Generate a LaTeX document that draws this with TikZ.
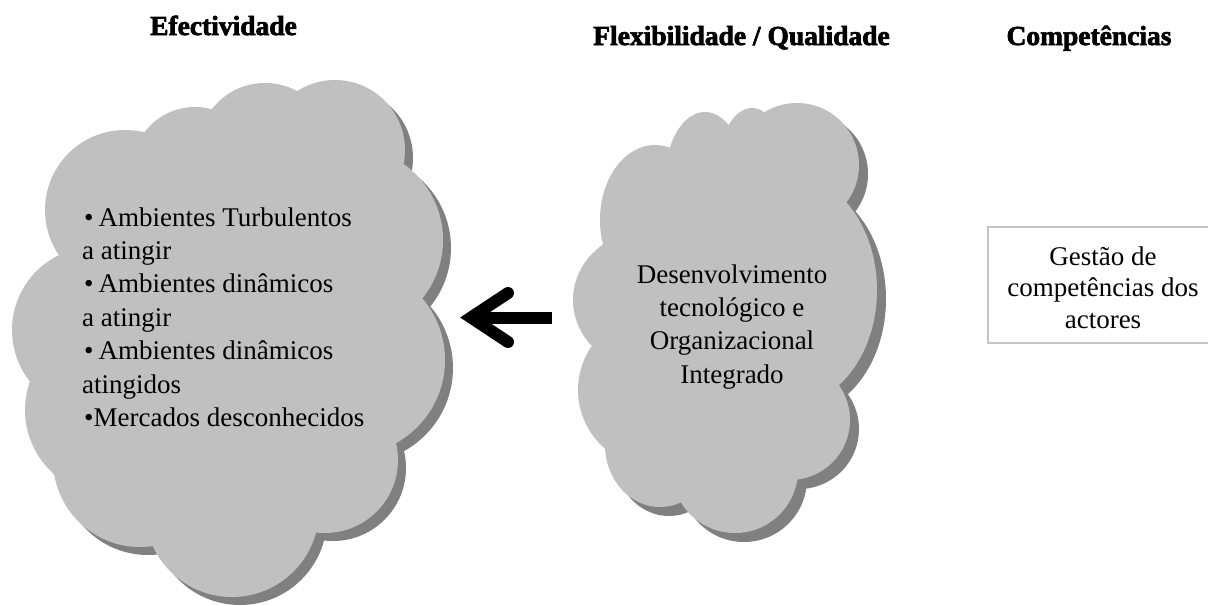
\documentclass[tikz,border=0pt]{standalone}
\usepackage{fontspec}
\setmainfont{Liberation Serif}
\newfontfamily\titlefont{Liberation Serif}[BoldFeatures={FakeBold=2.5}]
\definecolor{cloudfill}{HTML}{C0C0C0}
\definecolor{cloudshadow}{HTML}{808080}
\definecolor{boxline}{HTML}{C4C4C4}
\newcommand\lcloudlist{125/210/80/80, 195/170/63/63, 265/150/67/67, 335/150/70/70, 350/240/93/93, 350/360/95/95, 325/460/73/73, 232/510/87/87, 140/460/87/87, 110/410/85/85, 95/330/83/83, 230/330/180/200}
\newcommand\rcloudlist{655/220/55/75, 705/180/40/68, 752/175/35/67, 797/165/62/62, 790/290/87/115, 790/420/60/60, 735/470/63/63, 660/445/55/62, 655/390/77/77, 650/300/77/70, 725/315/120/160}
\begin{document}
\begin{tikzpicture}[x=1pt,y=-1pt,
  txt/.style={inner sep=0pt, font=\fontsize{27}{33}\selectfont},
  ttl/.style={inner sep=0pt, anchor=base, font=\titlefont\bfseries\fontsize{27.5}{33}\selectfont},
  gbox/.style={draw=boxline, line width=1.5pt, fill=white, inner sep=0pt},
  thick arrow/.style={line width=12pt, black}]
\useasboundingbox (0,0) rectangle (1208,605);
\fill[white] (0,0) rectangle (1208,605);
% left cloud
\begin{scope}[shift={(8,8)}]
\foreach \a/\b/\c/\d in \lcloudlist {\fill[cloudshadow] (\a,\b) ellipse [x radius=\c pt, y radius=\d pt];}
\end{scope}
\foreach \a/\b/\c/\d in \lcloudlist {\fill[cloudfill] (\a,\b) ellipse [x radius=\c pt, y radius=\d pt];}
% right cloud
\begin{scope}[shift={(9,9)}]
\foreach \a/\b/\c/\d in \rcloudlist {\fill[cloudshadow] (\a,\b) ellipse [x radius=\c pt, y radius=\d pt];}
\end{scope}
\foreach \a/\b/\c/\d in \rcloudlist {\fill[cloudfill] (\a,\b) ellipse [x radius=\c pt, y radius=\d pt];}
% titles
\node[ttl] (t1) at (223.5,35) {Efectividade};
\node[ttl] (t2) at (741.5,45) {Flexibilidade / Qualidade};
\node[ttl] (t3) at (1089,45) {Competências};
% left cloud text
\node[txt, anchor=base west] (l1) at (84,226) {•\hspace{5pt}Ambientes Turbulentos};
\node[txt, anchor=base west] (l2) at (82,259.4) {a atingir};
\node[txt, anchor=base west] (l3) at (84,292.8) {•\hspace{5pt}Ambientes dinâmicos};
\node[txt, anchor=base west] (l4) at (82,326.2) {a atingir};
\node[txt, anchor=base west] (l5) at (84,359.6) {•\hspace{5pt}Ambientes dinâmicos};
\node[txt, anchor=base west] (l6) at (82,393) {atingidos};
\node[txt, anchor=base west] (l7) at (84,426.4) {•Mercados desconhecidos};
% right cloud text
\node[txt, anchor=base] (r1) at (732,283) {Desenvolvimento};
\node[txt, anchor=base] (r2) at (732,316.4) {tecnológico e};
\node[txt, anchor=base] (r3) at (732,349.8) {Organizacional};
\node[txt, anchor=base] (r4) at (732,383.2) {Integrado};
% box
\node[gbox, minimum width=224pt, minimum height=116pt] (box) at (1100,285) {};
\node[txt, anchor=base] (b1) at (1103,265) {Gestão de};
\node[txt, anchor=base] (b2) at (1103,296.5) {competências dos};
\node[txt, anchor=base] (b3) at (1103,328) {actores};
% arrow
\coordinate (arrS) at (552,317.5);
\coordinate (arrT) at (471,317.5);
\coordinate (hA) at (508,293);
\coordinate (hB) at (508,342);
\draw[thick arrow] (arrS) -- (arrT);
\draw[thick arrow, line cap=round, line join=miter] (hA) -- (arrT) -- (hB);
\end{tikzpicture}
\end{document}
